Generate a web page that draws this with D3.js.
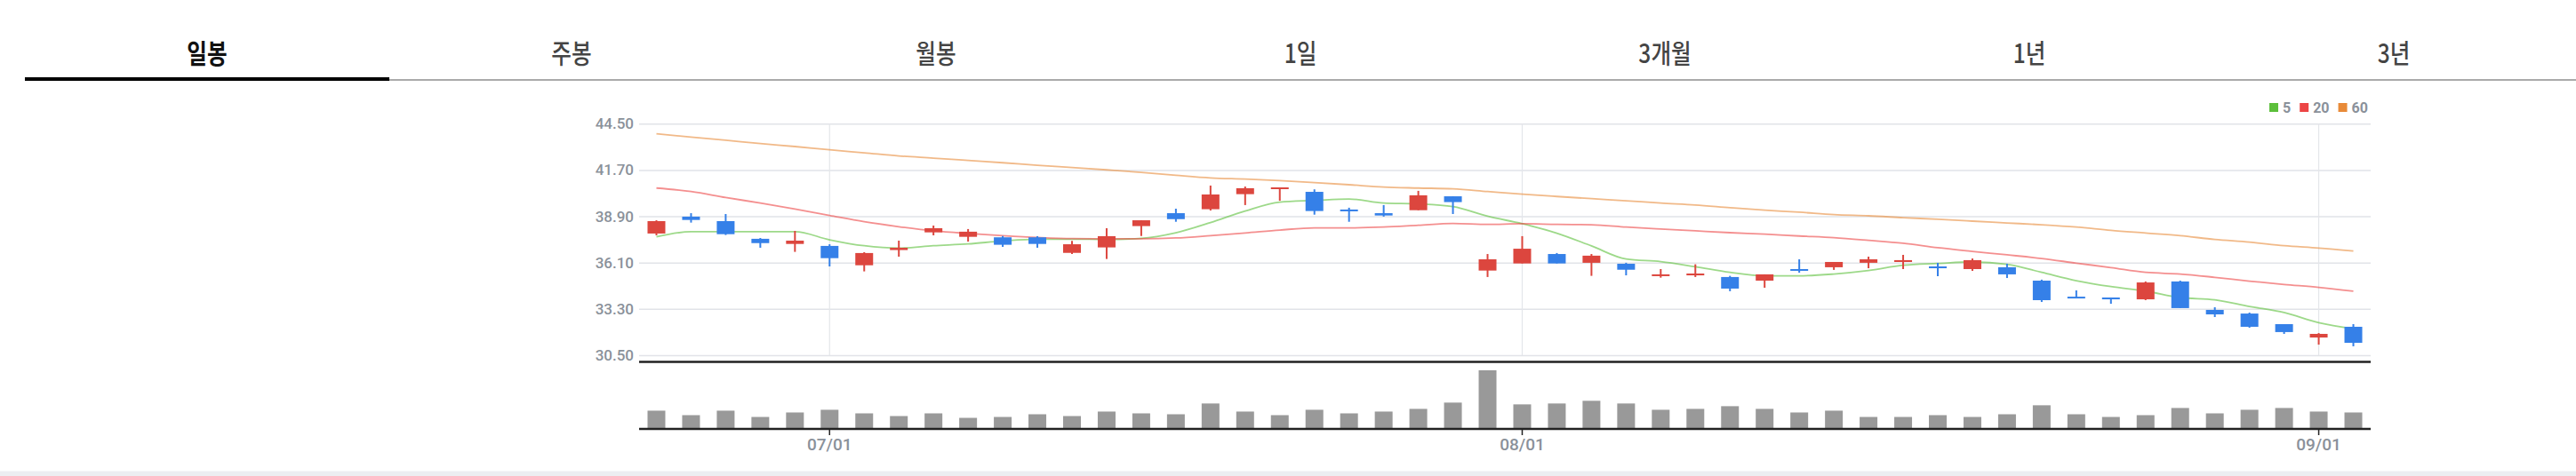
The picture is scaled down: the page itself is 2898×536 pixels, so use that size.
<!DOCTYPE html>
<html>
<head>
<meta charset="utf-8">
<script src="https://cdn.jsdelivr.net/npm/d3@7/dist/d3.min.js"></script>
<style>
    body { margin: 0; background: #fff; }
    svg { display: block; }
</style>
</head>
<body>
<div id="chart-area"></div>
<script>
// Tabs
var tabs = ["일봉", "주봉", "월봉", "1일", "3개월", "1년", "3년"];
var activeTab = "일봉";

// Daily candles
var dates = ["06/24","06/25","06/26","06/27","06/28",
    "07/01","07/02","07/03","07/05","07/08","07/09","07/10","07/11","07/12","07/15",
    "07/16","07/17","07/18","07/19","07/22","07/23","07/24","07/25","07/26","07/29",
    "08/01","08/02","08/05","08/06","08/07","08/08","08/09","08/12","08/13","08/14",
    "08/15","08/16","08/19","08/20","08/21","08/22","08/23","08/26","08/27","08/28",
    "08/29","08/30","08/31","09/01","09/02"];

var open = [37.86, 38.88, 38.61, 37.54, 37.23, 37.11, 35.94, 36.86, 37.93, 37.66,
    37.63, 37.63, 36.69, 37.02, 38.31, 39.09, 39.33, 40.24, 40.56, 40.38,
    39.31, 39.09, 39.27, 40.11, 35.62, 36.05, 36.62, 36.09, 36.03, 35.30,
    35.33, 35.23, 35.01, 35.71, 35.82, 36.09, 36.14, 35.87, 35.71, 35.82,
    35.01, 34.04, 33.99, 33.88, 34.96, 33.24, 33.02, 32.38, 31.57, 32.22];
var high = [38.66, 39.09, 39.04, 37.59, 38.02, 37.21, 36.73, 37.43, 38.34, 38.13,
    37.71, 37.70, 37.41, 38.18, 38.66, 39.36, 40.76, 40.70, 40.65, 40.53,
    39.42, 39.58, 40.44, 40.11, 36.62, 37.70, 36.68, 36.62, 36.09, 35.71,
    36.00, 35.30, 35.39, 36.30, 36.14, 36.46, 36.57, 36.09, 36.35, 36.03,
    35.07, 34.42, 33.99, 34.96, 35.01, 33.40, 33.08, 32.38, 31.84, 32.38];
var low = [37.75, 38.52, 37.77, 37.00, 36.75, 35.87, 35.57, 36.46, 37.75, 37.37,
    37.05, 37.00, 36.62, 36.32, 37.71, 38.57, 39.25, 39.58, 39.84, 39.00,
    38.57, 38.88, 39.27, 39.04, 35.23, 36.05, 36.05, 35.30, 35.33, 35.19,
    35.23, 34.37, 34.58, 35.49, 35.66, 35.76, 35.71, 35.28, 35.60, 35.17,
    33.72, 33.94, 33.61, 33.83, 33.35, 32.81, 32.16, 31.79, 31.14, 31.04];
var close = [38.61, 38.68, 37.82, 37.28, 37.43, 36.37, 36.68, 37.00, 38.18, 37.97,
    37.18, 37.23, 37.21, 37.70, 38.66, 38.73, 40.22, 40.60, 40.65, 39.22,
    39.22, 38.95, 40.17, 39.76, 36.30, 36.94, 36.05, 36.52, 35.67, 35.39,
    35.44, 34.53, 35.39, 35.62, 36.14, 36.30, 36.25, 35.76, 36.25, 35.39,
    33.83, 33.94, 33.88, 34.90, 33.35, 32.97, 32.22, 31.90, 31.79, 31.25];
var volume = [610, 460, 610, 400, 550, 640, 520, 430, 520, 370,
    400, 490, 430, 580, 520, 490, 850, 580, 460, 640,
    520, 580, 670, 880, 1960, 820, 850, 940, 850, 640,
    670, 760, 670, 550, 610, 400, 400, 460, 400, 490,
    790, 490, 400, 460, 700, 520, 640, 700, 580, 550];

// Moving averages
var ma5 = [37.66, 37.97, 37.97, 37.97, 37.97, 37.48, 37.12, 36.98, 37.12, 37.23,
    37.41, 37.52, 37.52, 37.50, 37.57, 37.91, 38.52, 39.22, 39.76, 39.86,
    39.95, 39.70, 39.65, 39.49, 38.91, 38.45, 37.88, 37.11, 36.32, 36.16,
    35.85, 35.51, 35.30, 35.30, 35.41, 35.62, 35.94, 36.05, 36.14, 36.00,
    35.51, 35.01, 34.65, 34.38, 33.99, 33.85, 33.45, 33.08, 32.47, 32.11];
var ma20 = [40.61, 40.40, 40.04, 39.70, 39.34, 38.95, 38.57, 38.27, 38.02, 37.86,
    37.73, 37.62, 37.55, 37.54, 37.54, 37.59, 37.73, 37.89, 38.07, 38.20,
    38.20, 38.25, 38.36, 38.47, 38.41, 38.45, 38.41, 38.39, 38.25, 38.13,
    38.02, 37.91, 37.82, 37.71, 37.61, 37.45, 37.27, 37.00, 36.78, 36.57,
    36.35, 36.07, 35.80, 35.51, 35.41, 35.21, 34.98, 34.78, 34.60, 34.37];
var ma60 = [43.89, 43.69, 43.50, 43.30, 43.12, 42.92, 42.74, 42.55, 42.42, 42.28,
    42.14, 41.99, 41.85, 41.71, 41.56, 41.38, 41.22, 41.15, 41.06, 40.94,
    40.81, 40.67, 40.61, 40.56, 40.40, 40.24, 40.10, 39.97, 39.84, 39.70,
    39.58, 39.42, 39.27, 39.15, 39.00, 38.93, 38.82, 38.72, 38.61, 38.50,
    38.39, 38.25, 38.05, 37.89, 37.73, 37.50, 37.34, 37.12, 36.98, 36.80];

var maLabels = ["5", "20", "60"];
var yTicks = [30.50, 33.30, 36.10, 38.90, 41.70, 44.50];

// Layout
var W = 2898, H = 536;
var left = 719, right = 2667;
var priceTop = 139.3, priceBottom = 400;
var volTop = 409, volBottom = 483;

var upColor = "#dc463e", downColor = "#3580e8";
var maColors = ["#5cbf3b", "#ec4545", "#e88a38"];
var labelColor = "#8a919a";

var svg = d3.select("#chart-area")
    .append("svg")
        .attr("width", W)
        .attr("height", H);

// Tab bar
var tabX = d3.scaleBand().domain(tabs).range([28, W]);

svg.append("rect")
    .attr("x", 28).attr("y", 89)
    .attr("width", W - 28).attr("height", 2)
    .attr("fill", "#aaaaaa");

svg.append("rect")
    .attr("x", tabX(activeTab)).attr("y", 87)
    .attr("width", tabX.bandwidth()).attr("height", 4)
    .attr("fill", "#000");

svg.selectAll(".tab")
    .data(tabs)
    .enter().append("text")
        .attr("class", "tab")
        .attr("transform", function(d){ return "translate(" + (tabX(d) + tabX.bandwidth() / 2) + ",58) scale(0.82,1)"; })
        .attr("text-anchor", "middle")
        .attr("dominant-baseline", "central")
        .attr("font-family", "'Noto Sans CJK KR', 'Noto Sans', sans-serif")
        .attr("font-size", "30px")
        .attr("font-weight", function(d){ return d === activeTab ? 700 : 500; })
        .attr("fill", function(d){ return d === activeTab ? "#111" : "#444"; })
        .text(function(d){ return d; });

// Scales
var x = d3.scaleBand().domain(dates).range([left, right]);
var bw = x.bandwidth();
var cx = function(d){ return x(d) + bw / 2; };

var y = d3.scaleLinear()
    .domain([30.5, 44.5])
    .range([priceBottom, priceTop]);

var yVol = d3.scaleLinear()
    .domain([0, d3.max(volume) * 1.12])
    .range([volBottom, volTop]);

var tickDates = dates.filter(function(d){ return d.slice(3) === "01"; });

// Y Axis + horizontal grid
var yAxisCall = d3.axisLeft(y)
    .tickValues(yTicks)
    .tickFormat(d3.format(".2f"))
    .tickSize(-(right - left))
    .tickPadding(6);
var yAxisGroup = svg.append("g")
    .attr("transform", "translate(" + left + ",0)")
    .call(yAxisCall);
yAxisGroup.select(".domain").remove();
yAxisGroup.selectAll("line").attr("stroke", "#e1e3e8").attr("stroke-width", 1.5);
yAxisGroup.selectAll("text")
    .attr("fill", labelColor)
    .attr("font-family", "Roboto, sans-serif")
    .attr("font-size", "17px")
    .attr("font-weight", 500);

// Vertical grid at month starts
svg.selectAll(".vgrid")
    .data(tickDates)
    .enter().append("line")
        .attr("class", "vgrid")
        .attr("x1", cx).attr("x2", cx)
        .attr("y1", priceTop).attr("y2", priceBottom)
        .attr("stroke", "#e4e6ea")
        .attr("stroke-width", 1.2);

// Moving average lines
var line = d3.line()
    .x(function(v, i){ return cx(dates[i]); })
    .y(function(v){ return y(v); })
    .curve(d3.curveMonotoneX);

[ma5, ma20, ma60].forEach(function(series, k){
    svg.append("path")
        .attr("d", line(series))
        .attr("fill", "none")
        .attr("stroke", maColors[k])
        .attr("stroke-opacity", 0.6)
        .attr("stroke-width", 1.8);
});

// Candles
var candles = dates.map(function(d, i){
    return { date: d, o: open[i], h: high[i], l: low[i], c: close[i], v: volume[i] };
});
var bodyW = 20;

var cg = svg.selectAll(".candle")
    .data(candles)
    .enter().append("g")
        .attr("class", "candle")
        .attr("fill", function(d){ return d.c >= d.o ? upColor : downColor; })
        .attr("stroke", function(d){ return d.c >= d.o ? upColor : downColor; });

cg.append("line")
    .attr("x1", function(d){ return cx(d.date); })
    .attr("x2", function(d){ return cx(d.date); })
    .attr("y1", function(d){ return y(d.h); })
    .attr("y2", function(d){ return y(d.l); })
    .attr("stroke-width", 2);

cg.append("rect")
    .attr("x", function(d){ return cx(d.date) - bodyW / 2; })
    .attr("width", bodyW)
    .attr("y", function(d){ return y(Math.max(d.o, d.c)); })
    .attr("height", function(d){ return Math.max(2, Math.abs(y(d.o) - y(d.c))); })
    .attr("stroke", "none");

// Price panel bottom line
svg.append("line")
    .attr("x1", left).attr("x2", right)
    .attr("y1", 407.5).attr("y2", 407.5)
    .attr("stroke", "#222").attr("stroke-width", 2.5);

// Volume bars
svg.selectAll(".vol")
    .data(candles)
    .enter().append("rect")
        .attr("class", "vol")
        .attr("x", function(d){ return cx(d.date) - bodyW / 2; })
        .attr("width", bodyW)
        .attr("y", function(d){ return yVol(d.v); })
        .attr("height", function(d){ return volBottom - yVol(d.v); })
        .attr("fill", "#999999");

svg.append("line")
    .attr("x1", left).attr("x2", right)
    .attr("y1", volBottom).attr("y2", volBottom)
    .attr("stroke", "#222").attr("stroke-width", 2.5);

// X Axis
var xAxisCall = d3.axisBottom(x)
    .tickValues(tickDates)
    .tickSize(6)
    .tickPadding(4);
var xAxisGroup = svg.append("g")
    .attr("transform", "translate(0," + (volBottom + 1) + ")")
    .call(xAxisCall);
xAxisGroup.select(".domain").remove();
xAxisGroup.selectAll("line").attr("stroke", "#222").attr("stroke-width", 1.5);
xAxisGroup.selectAll("text")
    .attr("fill", labelColor)
    .attr("font-family", "Roboto, sans-serif")
    .attr("font-size", "19px")
    .attr("font-weight", 500);

// Legend
var lx = 2553;
maLabels.forEach(function(lab, k){
    svg.append("rect")
        .attr("x", lx).attr("y", 116)
        .attr("width", 10).attr("height", 10)
        .attr("fill", maColors[k]);
    var t = svg.append("text")
        .attr("x", lx + 15).attr("y", 127)
        .attr("fill", labelColor)
        .attr("font-family", "Roboto, sans-serif")
        .attr("font-size", "16px")
        .attr("font-weight", 700)
        .text(lab);
    lx += 15 + t.node().getComputedTextLength() + 10;
});

// Bottom band
svg.append("rect")
    .attr("x", 0).attr("y", 530.5)
    .attr("width", W).attr("height", H - 530.5)
    .attr("fill", "#eceef1");
</script>
</body>
</html>
